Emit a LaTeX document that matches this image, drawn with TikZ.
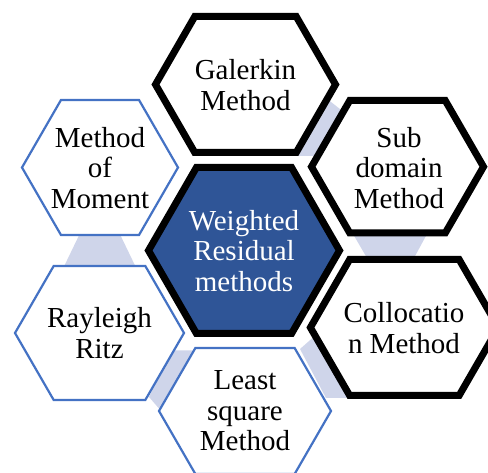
\documentclass[tikz,border=0pt]{standalone}
\usepackage{fontspec}
\setmainfont{Liberation Serif}
\newfontfamily\timesfont{Liberation Serif}
\definecolor{coreblue}{HTML}{2F5597}
\definecolor{lineblue}{HTML}{4472C4}
\definecolor{lightband}{HTML}{CFD5EA}
\newcommand{\hexdraw}[5]{%
  \draw[#1] ({#2-#4},{#3}) -- ({#2-#4+#5/sqrt(3)},{#3-#5}) -- ({#2+#4-#5/sqrt(3)},{#3-#5}) -- ({#2+#4},{#3}) -- ({#2+#4-#5/sqrt(3)},{#3+#5}) -- ({#2-#4+#5/sqrt(3)},{#3+#5}) -- cycle;}
\begin{document}
\begin{tikzpicture}[x=1pt,y=-1pt,
  gapband/.style={fill=lightband,draw=none},
  blackhex/.style={draw=black,line width=7pt,fill=white},
  bluehex/.style={draw=lineblue,line width=2.2pt,fill=white},
  corehex/.style={draw=black,line width=7pt,fill=coreblue},
  hextext/.style={font=\timesfont\fontsize{29}{30.5}\selectfont,align=center,text=black,inner sep=0pt},
  coretext/.style={hextext,text=white}]
\useasboundingbox (0,0) rectangle (488,473);
\clip (0,0) rectangle (488,473);
% light bands between neighbouring hexagons
\fill[gapband] (326,98) -- (345,113) -- (322,156) -- (297,156) -- cycle;
\fill[gapband] (81.6,230) -- (117.9,230) -- (137.2,270) -- (62.3,270) -- cycle;
\fill[gapband] (172,350.5) -- (198,350.5) -- (162,412) -- (149,397) -- cycle;
\fill[gapband] (300,349) -- (317,334) -- (350,398) -- (326,398) -- cycle;
\fill[gapband] (353,234) -- (427,234) -- (414,258) -- (367,258) -- cycle;
% hexagons
\hexdraw{blackhex}{245.5}{84.5}{90}{68}
\hexdraw{bluehex}{100}{167.5}{78}{67.5}
\hexdraw{bluehex}{99.5}{333}{84.5}{67}
\hexdraw{bluehex}{245}{411}{86}{63}
\hexdraw{blackhex}{397.5}{166.75}{86}{66.25}
\hexdraw{blackhex}{404.4}{327.5}{94}{68}
\hexdraw{corehex}{244}{250.5}{95.5}{83}
% texts
\node[hextext] (gal) at (245.5,85) {Galerkin\\Method};
\node[hextext] (mom) at (100,168) {Method\\of\\Moment};
\node[hextext] (ray) at (99.5,333) {Rayleigh\\Ritz};
\node[hextext] (lsq) at (245,411) {Least\\square\\Method};
\node[hextext] (sub) at (399,168) {Sub\\domain\\Method};
\node[hextext] (col) at (404,328) {Collocatio\\n Method};
\node[coretext] (wrm) at (244,251) {Weighted\\Residual\\methods};
\end{tikzpicture}
\end{document}
